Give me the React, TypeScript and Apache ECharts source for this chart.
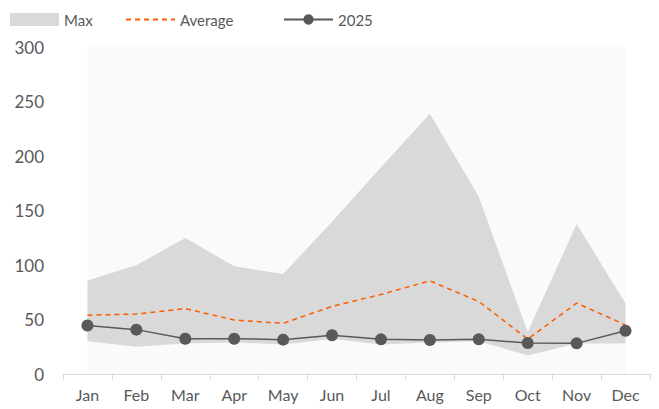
import React, { useEffect, useRef } from "react";
import * as echarts from "echarts";

const months = ["Jan", "Feb", "Mar", "Apr", "May", "Jun", "Jul", "Aug", "Sep", "Oct", "Nov", "Dec"];
const maxVals = [86, 100, 125, 99, 92, 140, 190, 239, 163, 39, 138, 65];
const minVals = [30, 25, 28, 29, 27, 32, 27, 29, 30, 17, 28, 28];
const avgVals = [54, 55, 60, 49.5, 46.5, 62, 73, 85.5, 66.5, 32, 65, 45];
const y2025 = [44.5, 40.7, 32.4, 32.4, 31.5, 35.5, 31.8, 31.2, 31.8, 28.4, 28.1, 39.7];
const yTicks = [0, 50, 100, 150, 200, 250, 300];

const FONT = "Lato";
const TXT = "#595959";

export default function App() {
  const ref = useRef<HTMLDivElement>(null);
  useEffect(() => {
    if (!ref.current) return;
    const chart = echarts.init(ref.current, null, { renderer: "svg" });
    const yMax = yTicks[yTicks.length - 1];
    const bandVals = maxVals.map((v, i) => v - minVals[i]);
    const topVals = maxVals.map((v) => yMax - v);
    const legendBase = {
      top: 12,
      itemWidth: 49,
      itemHeight: 13,
      itemGap: 0,
      textStyle: { fontFamily: FONT, fontSize: 15, color: TXT },
      selectedMode: false,
      padding: 0,
    };
    chart.setOption({
      animation: false,
      textStyle: { fontFamily: FONT },
      legend: [
        { ...legendBase, left: 10, data: [{ name: "Max", icon: "rect" }] },
        { ...legendBase, left: 125, data: [{ name: "Average" }] },
        { ...legendBase, left: 283, data: [{ name: "2025" }] },
      ],
      grid: { left: 63, right: 9, top: 47, bottom: 35, containLabel: false },
      xAxis: {
        type: "category",
        data: months,
        boundaryGap: true,
        axisLine: { lineStyle: { color: "#d9d9d9", width: 1 } },
        axisTick: { show: true, length: 6, lineStyle: { color: "#d9d9d9" } },
        axisLabel: { fontFamily: FONT, fontSize: 16, color: TXT, margin: 12 },
      },
      yAxis: {
        type: "value",
        min: 0,
        max: yMax,
        interval: 50,
        axisLine: { show: false },
        axisTick: { show: false },
        splitLine: { show: false },
        axisLabel: { fontFamily: FONT, fontSize: 17, color: TXT, margin: 19 },
      },
      series: [
        {
          name: "base",
          type: "line",
          stack: "band",
          data: minVals,
          symbol: "none",
          lineStyle: { width: 0, opacity: 0 },
          areaStyle: { color: "#f9fafa", opacity: 1 },
          z: 1,
        },
        {
          name: "Max",
          type: "line",
          stack: "band",
          data: bandVals,
          symbol: "none",
          lineStyle: { width: 0, opacity: 0 },
          itemStyle: { color: "#d9d9d9" },
          areaStyle: { color: "#d9d9d9", opacity: 1 },
          z: 1,
        },
        {
          name: "top",
          type: "line",
          stack: "band",
          data: topVals,
          symbol: "none",
          lineStyle: { width: 0, opacity: 0 },
          areaStyle: { color: "#f9fafa", opacity: 1 },
          z: 1,
        },
        {
          name: "Average",
          type: "line",
          data: avgVals,
          symbol: "none",
          itemStyle: { color: "rgba(0,0,0,0)" },
          lineStyle: { color: "#ff5a00", width: 1.5, type: [5, 4] },
          z: 3,
        },
        {
          name: "2025",
          type: "line",
          data: y2025,
          symbol: "circle",
          symbolSize: 12,
          itemStyle: { color: "#595959" },
          lineStyle: { color: "#595959", width: 1.5 },
          z: 4,
        },
      ],
    });
    return () => chart.dispose();
  }, []);
  return <div ref={ref} style={{ width: 659, height: 409, position: "absolute", left: 0, top: 0 }} />;
}
